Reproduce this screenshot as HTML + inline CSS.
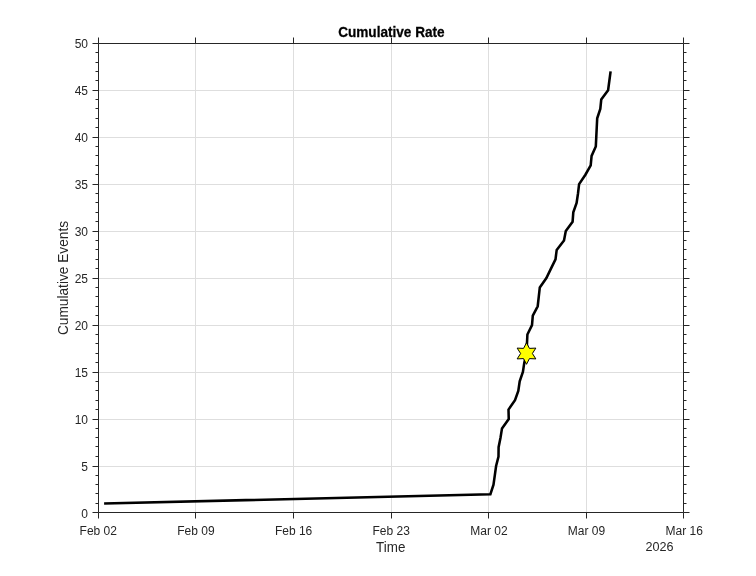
<!DOCTYPE html>
<html><head><meta charset="utf-8"><style>
html,body{margin:0;padding:0;background:#fff;width:756px;height:576px;overflow:hidden}
svg{display:block;will-change:transform}
</style></head><body>
<svg width="756" height="576" viewBox="0 0 756 576">
<rect width="756" height="576" fill="#fff"/>
<line x1="195.5" y1="43.5" x2="195.5" y2="512.5" stroke="#dedede" stroke-width="1"/>
<line x1="293.5" y1="43.5" x2="293.5" y2="512.5" stroke="#dedede" stroke-width="1"/>
<line x1="391.5" y1="43.5" x2="391.5" y2="512.5" stroke="#dedede" stroke-width="1"/>
<line x1="488.5" y1="43.5" x2="488.5" y2="512.5" stroke="#dedede" stroke-width="1"/>
<line x1="586.5" y1="43.5" x2="586.5" y2="512.5" stroke="#dedede" stroke-width="1"/>
<line x1="98.5" y1="466.5" x2="683.5" y2="466.5" stroke="#dedede" stroke-width="1"/>
<line x1="98.5" y1="419.5" x2="683.5" y2="419.5" stroke="#dedede" stroke-width="1"/>
<line x1="98.5" y1="372.5" x2="683.5" y2="372.5" stroke="#dedede" stroke-width="1"/>
<line x1="98.5" y1="325.5" x2="683.5" y2="325.5" stroke="#dedede" stroke-width="1"/>
<line x1="98.5" y1="278.5" x2="683.5" y2="278.5" stroke="#dedede" stroke-width="1"/>
<line x1="98.5" y1="231.5" x2="683.5" y2="231.5" stroke="#dedede" stroke-width="1"/>
<line x1="98.5" y1="184.5" x2="683.5" y2="184.5" stroke="#dedede" stroke-width="1"/>
<line x1="98.5" y1="137.5" x2="683.5" y2="137.5" stroke="#dedede" stroke-width="1"/>
<line x1="98.5" y1="90.5" x2="683.5" y2="90.5" stroke="#dedede" stroke-width="1"/>
<path d="M104.10,503.56 L490.40,494.16 L493.50,484.77 L494.80,475.37 L496.10,465.98 L498.50,456.58 L498.60,447.19 L500.50,437.79 L502.00,428.40 L508.75,419.00 L508.50,409.61 L515.00,400.21 L518.30,390.82 L519.70,381.42 L522.90,372.03 L524.30,362.63 L526.50,353.24 L526.95,343.84 L527.40,334.45 L532.00,325.05 L532.80,315.66 L537.70,306.26 L538.75,296.87 L539.80,287.47 L546.40,278.08 L550.95,268.68 L555.50,259.29 L556.70,249.89 L564.00,240.50 L565.80,231.10 L572.60,221.71 L573.30,212.31 L576.60,202.92 L578.00,193.52 L579.10,184.13 L585.40,174.73 L590.70,165.34 L591.60,155.94 L595.80,146.55 L596.27,137.15 L596.73,127.76 L597.20,118.36 L600.30,108.97 L601.25,99.57 L608.10,90.18 L609.35,80.78 L610.60,71.39" fill="none" stroke="#000" stroke-width="2.55" stroke-linejoin="miter" stroke-linecap="butt"/>
<polygon points="526.50,342.70 523.56,348.40 517.15,348.10 520.61,353.50 517.15,358.90 523.56,358.60 526.50,364.30 529.44,358.60 535.85,358.90 532.39,353.50 535.85,348.10 529.44,348.40" fill="#ffff00" stroke="#000" stroke-width="1"/>
<path d="M98.5,43.5 H683.5 V512.5 H98.5 Z" fill="none" stroke="#262626" stroke-width="1"/>
<path d="M98.5,512.5 V518.5 M98.5,43.5 V37.5 M195.5,512.5 V518.5 M195.5,43.5 V37.5 M293.5,512.5 V518.5 M293.5,43.5 V37.5 M391.5,512.5 V518.5 M391.5,43.5 V37.5 M488.5,512.5 V518.5 M488.5,43.5 V37.5 M586.5,512.5 V518.5 M586.5,43.5 V37.5 M683.5,512.5 V518.5 M683.5,43.5 V37.5 M98.5,512.5 H92.5 M683.5,512.5 H689.5 M98.5,503.5 H95.5 M683.5,503.5 H686.5 M98.5,493.5 H95.5 M683.5,493.5 H686.5 M98.5,484.5 H95.5 M683.5,484.5 H686.5 M98.5,475.5 H95.5 M683.5,475.5 H686.5 M98.5,466.5 H92.5 M683.5,466.5 H689.5 M98.5,456.5 H95.5 M683.5,456.5 H686.5 M98.5,446.5 H95.5 M683.5,446.5 H686.5 M98.5,437.5 H95.5 M683.5,437.5 H686.5 M98.5,428.5 H95.5 M683.5,428.5 H686.5 M98.5,419.5 H92.5 M683.5,419.5 H689.5 M98.5,409.5 H95.5 M683.5,409.5 H686.5 M98.5,400.5 H95.5 M683.5,400.5 H686.5 M98.5,390.5 H95.5 M683.5,390.5 H686.5 M98.5,381.5 H95.5 M683.5,381.5 H686.5 M98.5,372.5 H92.5 M683.5,372.5 H689.5 M98.5,362.5 H95.5 M683.5,362.5 H686.5 M98.5,353.5 H95.5 M683.5,353.5 H686.5 M98.5,343.5 H95.5 M683.5,343.5 H686.5 M98.5,334.5 H95.5 M683.5,334.5 H686.5 M98.5,325.5 H92.5 M683.5,325.5 H689.5 M98.5,315.5 H95.5 M683.5,315.5 H686.5 M98.5,306.5 H95.5 M683.5,306.5 H686.5 M98.5,296.5 H95.5 M683.5,296.5 H686.5 M98.5,287.5 H95.5 M683.5,287.5 H686.5 M98.5,278.5 H92.5 M683.5,278.5 H689.5 M98.5,268.5 H95.5 M683.5,268.5 H686.5 M98.5,259.5 H95.5 M683.5,259.5 H686.5 M98.5,249.5 H95.5 M683.5,249.5 H686.5 M98.5,240.5 H95.5 M683.5,240.5 H686.5 M98.5,231.5 H92.5 M683.5,231.5 H689.5 M98.5,221.5 H95.5 M683.5,221.5 H686.5 M98.5,212.5 H95.5 M683.5,212.5 H686.5 M98.5,202.5 H95.5 M683.5,202.5 H686.5 M98.5,193.5 H95.5 M683.5,193.5 H686.5 M98.5,184.5 H92.5 M683.5,184.5 H689.5 M98.5,174.5 H95.5 M683.5,174.5 H686.5 M98.5,165.5 H95.5 M683.5,165.5 H686.5 M98.5,155.5 H95.5 M683.5,155.5 H686.5 M98.5,146.5 H95.5 M683.5,146.5 H686.5 M98.5,137.5 H92.5 M683.5,137.5 H689.5 M98.5,127.5 H95.5 M683.5,127.5 H686.5 M98.5,118.5 H95.5 M683.5,118.5 H686.5 M98.5,108.5 H95.5 M683.5,108.5 H686.5 M98.5,99.5 H95.5 M683.5,99.5 H686.5 M98.5,90.5 H92.5 M683.5,90.5 H689.5 M98.5,80.5 H95.5 M683.5,80.5 H686.5 M98.5,71.5 H95.5 M683.5,71.5 H686.5 M98.5,62.5 H95.5 M683.5,62.5 H686.5 M98.5,52.5 H95.5 M683.5,52.5 H686.5 M98.5,43.5 H92.5 M683.5,43.5 H689.5" fill="none" stroke="#262626" stroke-width="1"/>
<g font-family="Liberation Sans, sans-serif" font-size="12" fill="#262626"><text x="88.0" y="518.15" text-anchor="end">0</text><text x="88.0" y="471.10" text-anchor="end">5</text><text x="88.0" y="424.05" text-anchor="end">10</text><text x="88.0" y="377.00" text-anchor="end">15</text><text x="88.0" y="329.95" text-anchor="end">20</text><text x="88.0" y="282.90" text-anchor="end">25</text><text x="88.0" y="235.85" text-anchor="end">30</text><text x="88.0" y="188.80" text-anchor="end">35</text><text x="88.0" y="141.75" text-anchor="end">40</text><text x="88.0" y="94.70" text-anchor="end">45</text><text x="88.0" y="47.65" text-anchor="end">50</text><text x="98.3" y="535" text-anchor="middle">Feb 02</text><text x="195.9" y="535" text-anchor="middle">Feb 09</text><text x="293.6" y="535" text-anchor="middle">Feb 16</text><text x="391.2" y="535" text-anchor="middle">Feb 23</text><text x="488.9" y="535" text-anchor="middle">Mar 02</text><text x="586.5" y="535" text-anchor="middle">Mar 09</text><text x="684.2" y="535" text-anchor="middle">Mar 16</text><text x="673.6" y="551.1" text-anchor="end" font-size="12.6">2026</text></g>
<text transform="translate(390.7,551.8) scale(1,1.07)" x="0" y="0" text-anchor="middle" font-family="Liberation Sans, sans-serif" font-size="13.4" fill="#262626">Time</text>
<text transform="translate(68.1,278.0) rotate(-90) scale(1,1.1)" x="0" y="0" text-anchor="middle" font-family="Liberation Sans, sans-serif" font-size="13.7" fill="#262626">Cumulative Events</text>
<text transform="translate(391.4,36.75) scale(1,1.02)" x="0" y="0" text-anchor="middle" font-family="Liberation Sans, sans-serif" font-size="13.6" font-weight="bold" fill="#000" stroke="#000" stroke-width="0.25">Cumulative Rate</text>
</svg>
</body></html>
